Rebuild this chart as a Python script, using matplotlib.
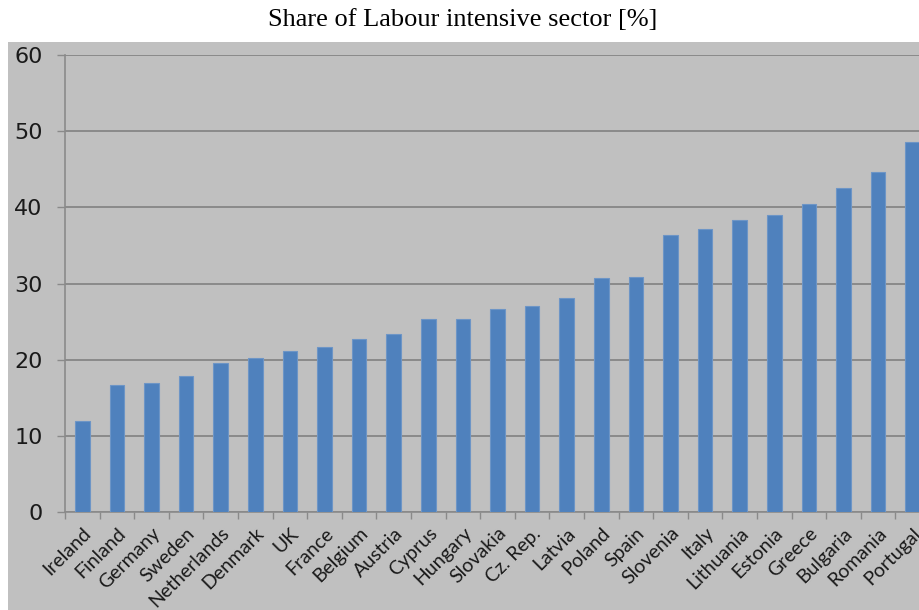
import numpy as np
import matplotlib.pyplot as plt
from matplotlib.patches import Rectangle

# data
countries = ['Ireland', 'Finland', 'Germany', 'Sweden', 'Netherlands', 'Denmark', 'UK',
             'France', 'Belgium', 'Austria', 'Cyprus', 'Hungary', 'Slovakia', 'Cz. Rep.',
             'Latvia', 'Poland', 'Spain', 'Slovenia', 'Italy', 'Lithuania', 'Estonia',
             'Greece', 'Bulgaria', 'Romania', 'Portugal']
share = [11.9, 16.7, 17.0, 17.8, 19.6, 20.2, 21.2, 21.6, 22.7, 23.4, 25.3, 25.4, 26.6,
         27.1, 28.1, 30.7, 30.9, 36.4, 37.1, 38.3, 39.0, 40.5, 42.5, 44.6, 48.6]
yticks = [0, 10, 20, 30, 40, 50, 60]

bg = '#c0c0c0'
grid_col = '#8a8a8a'

fig = plt.figure(figsize=(9.2, 6.1), dpi=100)
fig.patch.set_facecolor('white')
# grey chart panel (the picture is cropped from a larger sheet)
fig.patches.append(Rectangle((8 / 920, 0), 1, (610 - 42) / 610, transform=fig.transFigure,
                             facecolor=bg, edgecolor='none', zorder=-10))

fig.text(463 / 920, 1 - 20 / 610, 'Share of Labour intensive sector [%]',
         ha='center', va='center', fontsize=19, family='Liberation Serif')

ax = fig.add_axes([65 / 920, (610 - 512) / 610, 865 / 920, 457 / 610])
ax.set_facecolor(bg)

x = np.arange(len(countries))
ax.bar(x, share, width=0.42, color='#4f81bd', edgecolor='#6d95c6', linewidth=0.8, zorder=3)

ax.set_xlim(-0.5, len(countries) - 0.5)
ax.set_ylim(0, 60)
ax.set_yticks(yticks)
ax.yaxis.grid(True, color=grid_col, linewidth=1.4, zorder=1)
ax.tick_params(axis='y', length=6, width=1, color=grid_col, labelsize=16, pad=10,
               labelcolor='#1a1a1a')

ax.set_xticks(x)
ax.set_xticklabels(countries, rotation=45, ha='right', rotation_mode='anchor',
                   fontsize=14, family='Lato', color='#1a1a1a')
ax.tick_params(axis='x', which='major', length=0, pad=9)
ax.set_xticks(np.arange(-0.5, len(countries)), minor=True)
ax.tick_params(axis='x', which='minor', length=5, width=1, color=grid_col)

for s in ['top', 'right']:
    ax.spines[s].set_visible(False)
for s in ['left', 'bottom']:
    ax.spines[s].set_color(grid_col)
    ax.spines[s].set_linewidth(1.2)

fig.savefig('out.png', dpi=100)
